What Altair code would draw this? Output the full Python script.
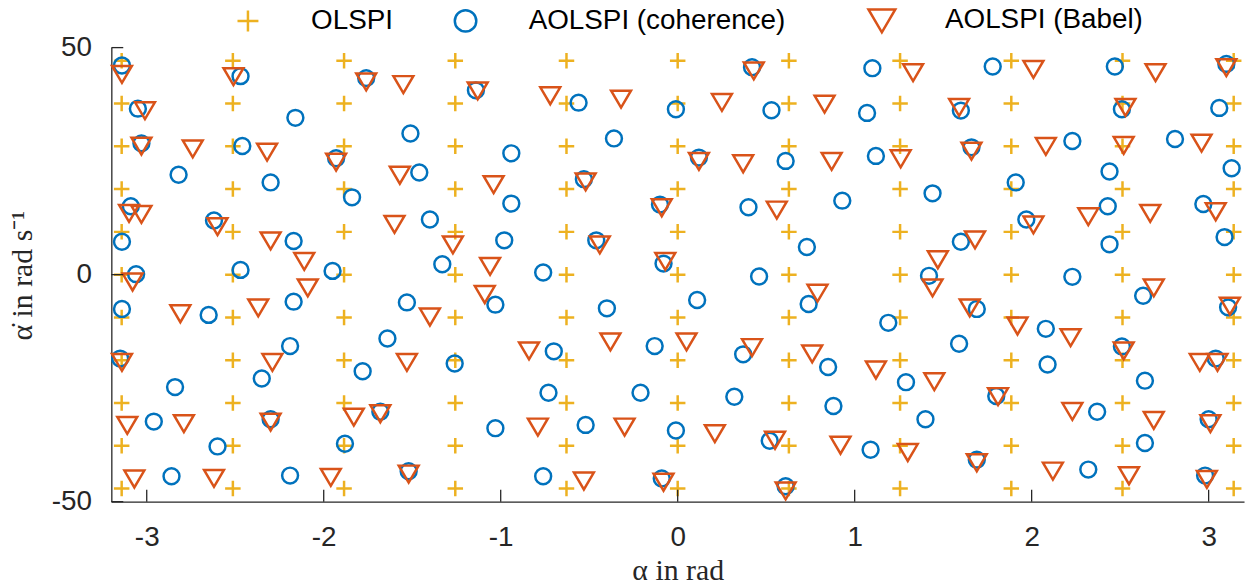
import altair as alt
import pandas as pd

# ---------------- data ----------------
methods = ["OLSPI", "AOLSPI (coherence)", "AOLSPI (Babel)"]
colors = ["#EDB120", "#0072BD", "#D95319"]

# OLSPI regular grid
olspi_alpha = [-3.1416, -2.5133, -1.885, -1.2566, -0.6283, 0.0, 0.6283, 1.2566, 1.885, 2.5133, 3.1416]
olspi_alphadot = [-47.12, -37.70, -28.27, -18.85, -9.42, 0.0, 9.42, 18.85, 28.27, 37.70, 47.12]

# AOLSPI (coherence)
coh_alpha = [-3.14, -3.05, -3.03, -2.82, -2.47, -2.46, -2.30, -2.16, -1.76, -1.93,
             -1.84, -1.51, -1.46, -1.14, -0.56, -0.94, -0.36, -0.53, -0.01, 0.42,
             0.12, 0.53, 0.61, 1.10, 1.78, 2.47, 3.10, 1.07, 1.60, 2.51,
             3.06, 1.12, 1.66, 2.23, 2.81, 3.13, 2.44, 1.91, 1.44, -3.09,
             -2.62, -3.14, -2.17, -2.47, -1.95, -3.06, -3.14, -2.65, -2.17, -1.53,
             -2.19, -1.64, -3.15, -2.35, -1.78, -2.84, -0.94, -1.40, -0.98, -1.33,
             -1.03, -0.10, 0.40, -0.46, -0.08, -0.76, -0.40, 0.11, 0.46, 0.73,
             0.74, -1.26, -0.70, -0.13, 0.37, 0.93, 1.97, 2.43, 2.97, 1.60,
             2.44, 3.09, 1.42, 2.23, 2.63, 1.69, 3.11, 1.19, 2.08, 1.59,
             2.51, 0.85, 1.29, 2.09, 2.64, 3.04, -2.96, -2.30, -2.60, -1.88,
             -1.68, -2.86, -2.19, -1.52, -0.73, -0.21, 0.32, -1.03, -0.52, -0.01,
             0.52, -0.76, -0.09, 0.61, 0.88, 1.40, 1.80, 2.37, 3.00, 1.09,
             1.69, 2.64, 2.32, 2.98]
coh_alphadot = [46.06, 36.56, 28.91, 21.99, 43.72, 28.34, 20.31, 34.53, 43.28, 25.62,
                17.02, 31.09, 22.49, 40.59, 37.88, 26.72, 30.00, 21.03, 36.43, 45.69,
                25.78, 36.21, 25.05, 45.47, 45.84, 45.84, 46.41, 35.62, 36.13, 36.43,
                36.72, 26.15, 28.03, 29.43, 29.87, 23.44, 22.71, 20.31, 17.90, 15.05,
                11.93, 7.24, 7.40, 1.05, 0.83, 0.11, -7.55, -8.86, -5.95, -6.11,
                -15.73, -14.05, -18.49, -22.87, -21.27, -24.77, 15.65, 12.14, 7.55, 2.30,
                -6.61, 15.43, 14.84, 7.55, 2.43, 0.46, -7.42, -5.58, -0.42, 6.08,
                -6.46, -19.58, -16.89, -15.73, -17.55, 16.30, 12.14, 15.05, 15.56, 7.24,
                6.67, 8.27, -0.26, -0.48, -4.64, -7.55, -7.20, -10.61, -11.93, -15.21,
                -15.80, -20.33, -23.68, -19.80, -23.35, -18.49, -32.36, -31.84, -37.83, -37.24,
                -30.18, -44.40, -44.25, -43.30, -26.02, -26.02, -26.89, -33.81, -33.09, -34.33,
                -36.59, -44.40, -44.90, -46.59, -28.93, -31.84, -26.74, -30.18, -31.84, -38.56,
                -40.74, -37.09, -42.93, -44.25]

# AOLSPI (Babel)
babel_alpha = [-3.14, -3.01, -3.03, -2.74, -2.51, -2.32, -1.76, -1.55, -1.93, -1.57,
               -1.13, -0.72, -0.32, 0.43, 0.25, -1.04, -0.52, 0.12, 0.37, 1.33,
               2.01, 2.70, 3.10, 0.83, 1.59, 2.53, 0.87, 1.26, 1.66, 2.08,
               2.52, 2.96, -3.10, -3.03, -2.60, -2.30, -1.60, -2.11, -2.09, -3.08,
               -2.81, -2.37, -3.14, -2.29, -1.53, -1.27, -1.06, -1.09, -1.40, -0.44,
               -0.09, -0.07, 0.56, -0.84, -0.38, 0.05, 0.42, 0.76, 0.79, 2.32,
               2.67, 3.04, 2.01, 1.68, 1.47, 1.44, 2.69, 1.65, 1.92, 2.22,
               2.52, 3.12, 1.12, 1.45, 2.95, 3.05, -3.11, -2.79, -2.30, -1.83,
               -1.68, -3.07, -2.62, -1.96, -1.52, -0.79, -0.30, 0.21, 0.55, -0.53,
               -0.08, 0.61, 1.81, 2.23, 2.69, 3.01, 0.92, 1.30, 1.69, 2.12,
               2.55, 2.99]
babel_alphadot = [44.22, 36.21, 28.40, 27.81, 43.72, 27.09, 42.56, 41.97, 24.90, 21.99,
                  40.59, 39.50, 38.75, 44.97, 38.03, 19.93, 20.53, 25.05, 24.53, 44.60,
                  45.32, 44.60, 45.69, 37.66, 36.94, 36.94, 25.05, 25.62, 27.31, 28.34,
                  28.56, 29.06, 13.59, 13.37, 10.68, 7.55, 11.18, 3.02, -2.82, -1.51,
                  -8.51, -7.20, -19.23, -19.23, -19.23, 6.67, 1.93, -4.27, -9.23, 6.67,
                  14.84, 3.02, 14.33, -16.67, -14.70, -14.70, -15.95, -17.33, -3.98, 12.87,
                  13.59, 13.96, 11.05, 7.77, 3.39, -2.82, -2.82, -7.20, -11.20, -13.76,
                  -16.67, -6.83, -20.90, -23.46, -19.23, -19.23, -33.09, -32.71, -32.36, -31.27,
                  -30.53, -44.90, -44.75, -44.53, -43.81, -33.46, -33.46, -34.90, -36.37, -45.34,
                  -45.62, -47.53, -26.74, -30.02, -31.99, -32.71, -37.46, -39.06, -41.33, -43.15,
                  -44.18, -44.97]

x_tick_values = [-3, -2, -1, 0, 1, 2, 3]
y_tick_values = [-50, 0, 50]

# ---------------- table ----------------
rows = []
for a in olspi_alpha:
    for d in olspi_alphadot:
        rows.append((methods[0], a, d))
for a, d in zip(coh_alpha, coh_alphadot):
    rows.append((methods[1], a, d))
for a, d in zip(babel_alpha, babel_alphadot):
    rows.append((methods[2], a, d))
df = pd.DataFrame(rows, columns=["method", "alpha", "alphadot"])
df["order"] = range(len(df))

# marker shapes (unit box paths)
plus_path = "M-0.78,0H0.78M0,-0.78V0.78"
circle_path = "M0.8,0A0.8,0.8,0,1,1,-0.8,0A0.8,0.8,0,1,1,0.8,0Z"
tri_path = "M-1,-0.8L1,-0.8L0,0.9Z"
shapes = [plus_path, circle_path, tri_path]

xscale = alt.Scale(domain=[-3.2, 3.2], nice=False, zero=False)
yscale = alt.Scale(domain=[-50, 50], nice=False, zero=False)

AX = "#262626"
SANS = "Liberation Sans"
SERIF = "Liberation Serif"
HYPHEN = "replace(datum.label, '\u2212', '-')"

x_axis = alt.Axis(
    values=x_tick_values, ticks=False, grid=False, labelFlush=False,
    labelPadding=22, labelFont=SANS, labelFontSize=28, labelColor=AX, labelExpr=HYPHEN,
    domainColor=AX, domainWidth=1.3,
    title="α in rad", titleFont=SERIF, titleFontSize=30, titleFontWeight="normal",
    titleColor=AX, titleY=78, titleBaseline="alphabetic")
y_axis = alt.Axis(
    values=y_tick_values, ticks=False, grid=False, labelFlush=False,
    labelPadding=20, labelFont=SANS, labelFontSize=28, labelColor=AX, labelExpr=HYPHEN,
    domainColor=AX, domainWidth=1.3,
    title="α\u0307 in rad s\u207b\u00b9", titleFont=SERIF, titleFontSize=30,
    titleFontWeight="normal", titleColor=AX, titleX=-80, titleY=229,
    titleAngle=270, titleAlign="center", titleBaseline="alphabetic")

# blank (non-whitespace) padding after the middle legend label widens its slot
legend = alt.Legend(
    title=None, orient="none", direction="horizontal",
    legendX=122.5, legendY=-43, padding=0,
    symbolSize=729, symbolStrokeWidth=2.5,
    labelFont=SANS, labelFontSize=28, labelColor="#000000", labelLimit=600,
    labelOffset=48.5, columnPadding=57,
    labelExpr="datum.label == 'AOLSPI (coherence)' ? datum.label + '\u2800' : datum.label",
)

points = alt.Chart(df).mark_point(filled=False, size=400, strokeWidth=2.5, opacity=1).encode(
    x=alt.X("alpha:Q", scale=xscale, axis=x_axis),
    y=alt.Y("alphadot:Q", scale=yscale, axis=y_axis),
    color=alt.Color("method:N", scale=alt.Scale(domain=methods, range=colors), legend=legend),
    shape=alt.Shape("method:N", scale=alt.Scale(domain=methods, range=shapes), legend=legend),
    order=alt.Order("order:Q"),
)

xt = alt.Chart(pd.DataFrame({"t": x_tick_values})).mark_rule(color=AX, strokeWidth=1.3).encode(
    x=alt.X("t:Q", scale=xscale, axis=x_axis), y=alt.value(457), y2=alt.value(445))
yt = alt.Chart(pd.DataFrame({"t": y_tick_values})).mark_rule(color=AX, strokeWidth=1.3).encode(
    y=alt.Y("t:Q", scale=yscale, axis=y_axis), x=alt.value(0), x2=alt.value(12))

chart = alt.layer(points, xt, yt).properties(
    width=1140, height=457,
    autosize=alt.AutoSizeParams(type="none"),
    padding={"left": 104, "top": 38, "right": 5, "bottom": 84},
    background="white",
).configure_view(stroke=None)

chart.save("out.html", embed_options={"renderer": "svg", "actions": False})
